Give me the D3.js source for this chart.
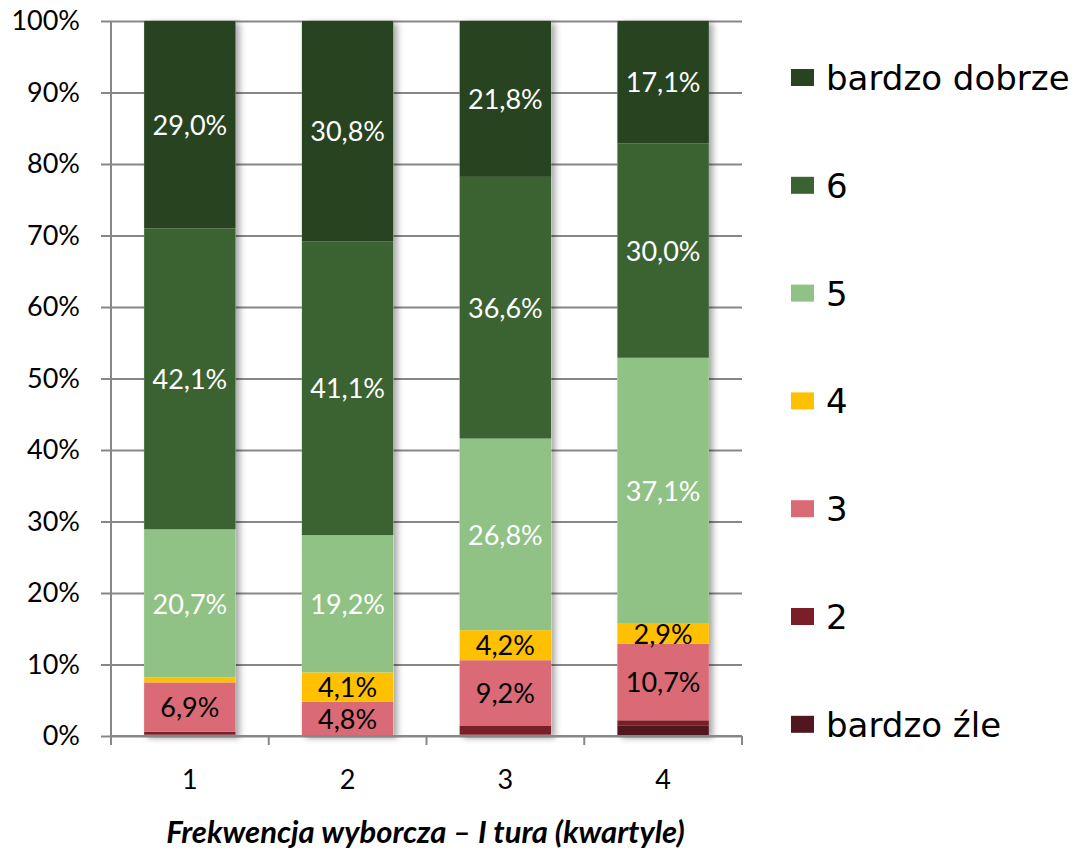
<!DOCTYPE html>
<html>
<head>
<meta charset="utf-8">
<script src="https://cdn.jsdelivr.net/npm/d3@7"></script>
<style>
	body { margin: 0; background: #fff; }
	svg { display: block; }
</style>
</head>
<body>
<div id="chart"></div>
<script>
// quartiles of turnout
const quartiles = ["1", "2", "3", "4"];

// series, bottom to top
const series = ["bardzo źle", "2", "3", "4", "5", "6", "bardzo dobrze"];
const colors = ["#52161e", "#7a1e28", "#d96a76", "#ffc000", "#8fc284", "#3b6331", "#274320"];
const labelColors = ["#000", "#000", "#000", "#000", "#fff", "#fff", "#fff"];

// percentage values per series (one value per quartile)
const bardzoZle = [0.2, 0.0, 0.2, 1.5];
const ocena2 = [0.4, 0.0, 1.2, 0.7];
const ocena3 = [6.9, 4.8, 9.2, 10.7];
const ocena4 = [0.7, 4.1, 4.2, 2.9];
const ocena5 = [20.7, 19.2, 26.8, 37.1];
const ocena6 = [42.1, 41.1, 36.6, 30.0];
const bardzoDobrze = [29.0, 30.8, 21.8, 17.1];

const yTicks = [0, 10, 20, 30, 40, 50, 60, 70, 80, 90, 100];
const xTitle = "Frekwencja wyborcza – I tura (kwartyle)";

const values = [bardzoZle, ocena2, ocena3, ocena4, ocena5, ocena6, bardzoDobrze];
const rows = quartiles.map((q, i) => {
	let r = {q};
	series.forEach((s, j) => r[s] = values[j][i]);
	return r;
});

const width = 1079, height = 849;
const margin = {top: 21, right: 337, bottom: 113, left: 111};

const svg = d3.select("#chart").append("svg")
	.attr("width", width)
	.attr("height", height);

const defs = svg.append("defs");
const shadow = defs.append("filter").attr("id", "shadow")
	.attr("x", "-20%").attr("y", "-5%").attr("width", "150%").attr("height", "115%");
shadow.append("feDropShadow")
	.attr("dx", 4).attr("dy", 2)
	.attr("stdDeviation", 3)
	.attr("flood-color", "#000")
	.attr("flood-opacity", 0.35);

const x = d3.scaleBand()
	.domain(quartiles)
	.range([margin.left, width - margin.right])
	.paddingInner(0.42)
	.paddingOuter(0.21);

const y = d3.scaleLinear()
	.domain([0, 100])
	.range([height - margin.bottom, margin.top]);

const font = "Lato, 'Open Sans', sans-serif";

// gridlines + y labels
const yAxis = g => g
	.attr("transform", `translate(${margin.left - 10},0)`)
	.call(d3.axisLeft(y)
		.tickValues(yTicks)
		.tickSize(-(width - margin.right - margin.left + 10))
		.tickPadding(21)
		.tickFormat(d => d + "%"))
	.call(g => g.select(".domain").remove())
	.call(g => g.selectAll(".tick line").attr("stroke", "#878787").attr("stroke-width", 2))
	.call(g => g.selectAll(".tick text")
		.style("font-family", font)
		.style("font-size", "27px")
		.attr("fill", "#000"));

svg.append("g").call(yAxis);

// y axis line
svg.append("line")
	.attr("x1", margin.left).attr("x2", margin.left)
	.attr("y1", y(0)).attr("y2", y(100))
	.attr("stroke", "#878787").attr("stroke-width", 2);

const stack = d3.stack().keys(series);
const stacked = stack(rows);

// shadow behind each full bar
svg.append("g")
	.selectAll("rect")
	.data(quartiles)
	.join("rect")
	.attr("x", d => x(d))
	.attr("y", y(100))
	.attr("width", x.bandwidth())
	.attr("height", y(0) - y(100))
	.attr("fill", "#fff")
	.attr("filter", "url(#shadow)");

const layers = svg.append("g")
	.selectAll("g")
	.data(stacked)
	.join("g")
	.attr("fill", (d, i) => colors[i]);

layers.selectAll("rect")
	.data(d => d)
	.join("rect")
	.attr("x", d => x(d.data.q))
	.attr("y", d => y(d[1]))
	.attr("width", x.bandwidth())
	.attr("height", d => y(d[0]) - y(d[1]));

// value labels
const fmt = v => v.toFixed(1).replace(".", ",") + "%";
svg.append("g")
	.selectAll("g")
	.data(stacked)
	.join("g")
	.attr("fill", (d, i) => labelColors[i])
	.selectAll("text")
	.data(d => d.filter(p => p[1] - p[0] >= 2))
	.join("text")
	.attr("x", d => x(d.data.q) + x.bandwidth() / 2)
	.attr("y", d => y((d[0] + d[1]) / 2))
	.attr("dy", "0.38em")
	.attr("text-anchor", "middle")
	.style("font-family", font)
	.style("font-size", "27px")
	.text(d => fmt(d[1] - d[0]));

// x axis
const xAxisY = y(0);
svg.append("line")
	.attr("x1", margin.left).attr("x2", width - margin.right)
	.attr("y1", xAxisY).attr("y2", xAxisY)
	.attr("stroke", "#878787").attr("stroke-width", 2);

svg.append("g")
	.selectAll("line")
	.data(d3.range(quartiles.length + 1))
	.join("line")
	.attr("x1", i => margin.left + i * x.step())
	.attr("x2", i => margin.left + i * x.step())
	.attr("y1", xAxisY)
	.attr("y2", xAxisY + 9)
	.attr("stroke", "#878787").attr("stroke-width", 2);

svg.append("g")
	.attr("transform", `translate(0,${xAxisY})`)
	.call(d3.axisBottom(x).tickSize(0).tickPadding(34))
	.call(g => g.select(".domain").remove())
	.call(g => g.selectAll(".tick text")
		.style("font-family", font)
		.style("font-size", "27px")
		.attr("fill", "#000"));

svg.append("text")
	.attr("x", (margin.left + width - margin.right) / 2 - 1)
	.attr("y", 843)
	.attr("text-anchor", "middle")
	.style("font-family", font)
	.style("font-size", "31px")
	.style("font-weight", "bold")
	.style("font-style", "italic")
	.text(xTitle);

// legend, top to bottom
const legendItems = series.map((s, i) => ({s, c: colors[i]})).reverse();
const legend = svg.append("g")
	.selectAll("g")
	.data(legendItems)
	.join("g")
	.attr("transform", (d, i) => `translate(791,${78 + i * 107.8})`);

legend.append("rect")
	.attr("x", 0).attr("y", -9)
	.attr("width", 23).attr("height", 17)
	.attr("fill", d => d.c);

legend.append("text")
	.attr("x", 35)
	.attr("y", 0)
	.attr("dy", "0.35em")
	.style("font-family", "'DejaVu Sans', sans-serif")
	.style("font-size", "34px")
	.attr("fill", "#000")
	.text(d => d.s);
</script>
</body>
</html>
